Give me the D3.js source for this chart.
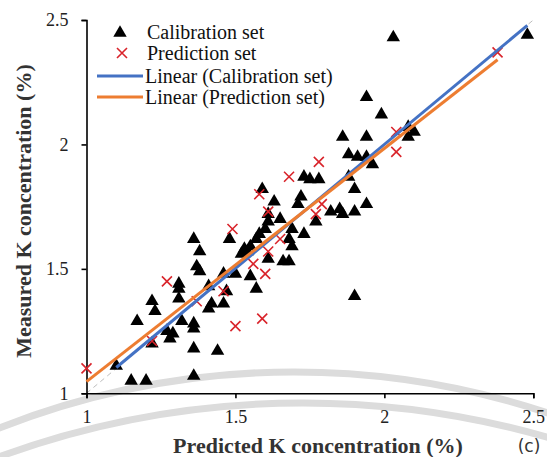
<!DOCTYPE html>
<html>
<head>
<meta charset="utf-8">
<script src="https://cdn.jsdelivr.net/npm/d3@7"></script>
<style>
  html, body { margin: 0; padding: 0; background: #fff; }
  svg { display: block; }
</style>
</head>
<body>
<svg id="chart" width="547" height="457"></svg>
<script>
// ---- data ----
const calibPredicted = [1.10,1.15,1.20,1.36,1.17,1.22,1.23,1.22,1.27,1.29,1.28,1.32,1.36,1.36,1.36,1.44,
  1.31,1.31,1.31,1.36,1.38,1.37,1.38,1.41,1.42,1.41,1.46,1.46,1.50,1.52,1.54,1.55,1.57,1.47,
  1.59,1.63,1.61,1.61,1.65,1.60,1.58,1.57,1.69,1.73,1.68,1.69,1.55,1.53,1.61,1.66,1.68,1.48,
  1.72,1.71,1.73,1.75,1.78,1.77,1.82,1.85,1.86,1.90,1.88,1.90,1.94,1.90,
  1.94,1.99,1.86,1.94,2.08,2.10,2.08,1.88,1.91,1.94,1.96,2.03,2.48];
const calibMeasured = [1.11,1.05,1.05,1.07,1.29,1.37,1.33,1.20,1.25,1.24,1.22,1.29,1.28,1.26,1.18,1.17,
  1.44,1.42,1.38,1.62,1.57,1.51,1.49,1.43,1.36,1.34,1.36,1.48,1.48,1.56,1.57,1.47,1.42,1.41,
  1.82,1.77,1.72,1.69,1.70,1.66,1.64,1.62,1.66,1.64,1.62,1.59,1.59,1.58,1.54,1.53,1.53,1.62,
  1.79,1.76,1.87,1.86,1.86,1.69,1.73,1.74,1.72,1.73,1.87,1.82,1.76,1.39,
  2.19,2.12,2.03,2.03,2.07,2.05,2.03,1.96,1.95,1.95,1.92,2.43,2.44];
const predPredicted = [1.00,1.22,1.27,1.37,1.46,1.50,1.49,1.56,1.59,1.60,1.61,1.58,1.61,1.65,1.68,1.78,1.79,1.77,2.04,2.04,2.38];
const predMeasured  = [1.10,1.21,1.45,1.37,1.41,1.27,1.66,1.52,1.30,1.48,1.57,1.80,1.73,1.62,1.87,1.93,1.76,1.72,2.05,1.97,2.37];
// linear trendlines: [slope, intercept]
const calibFit = [0.996, 0.008];
const predFit  = [0.937, 0.110];
const ticks = [1, 1.5, 2, 2.5];
const tickLabels = ["1", "1.5", "2", "2.5"];
const legendLabels = ["Calibration set", "Prediction set", "Linear (Calibration set)", "Linear (Prediction set)"];
const xTitle = "Predicted K concentration (%)";
const yTitle = "Measured K concentration (%)";
const panelTag = "(c)";

// ---- layout ----
const svg = d3.select("#chart");
const L = 86.5, R = 533.3, T = 20, B = 393.3;
const x = d3.scaleLinear().domain([1, 2.5]).range([L, R]);
const y = d3.scaleLinear().domain([1, 2.5]).range([B, T]);
const serif = "'Liberation Serif', 'Times New Roman', serif";
const BLUE = "#4472C4", ORANGE = "#ED7D31", RED = "#D9242B";

// watermark arcs (background decoration)
const wm = svg.append("g").attr("fill", "none").attr("stroke", "#dcdcdc").attr("stroke-width", 7);
wm.append("circle").attr("cx", 294).attr("cy", 1176).attr("r", 804);
wm.append("circle").attr("cx", 303).attr("cy", 1288).attr("r", 885);

// 1:1 dashed reference line
svg.append("line")
  .attr("x1", x(1)).attr("y1", y(1)).attr("x2", x(2.5)).attr("y2", y(2.5))
  .attr("stroke", "#bdbdbd").attr("stroke-width", 1).attr("stroke-dasharray", "5,4");

// axes
const xAxis = d3.axisBottom(x).tickValues(ticks).tickFormat((d, i) => tickLabels[i]).tickSizeOuter(0).tickSize(5).tickPadding(12);
const yAxis = d3.axisLeft(y).tickValues(ticks).tickFormat((d, i) => tickLabels[i]).tickSizeOuter(0).tickSize(5).tickPadding(13);
const gx = svg.append("g").attr("transform", `translate(0,${B})`).call(xAxis);
const gy = svg.append("g").attr("transform", `translate(${L},0)`).call(yAxis);
[gx, gy].forEach(g => {
  g.select(".domain").attr("stroke", "#000").attr("stroke-width", 1.6);
  g.selectAll(".tick line").attr("stroke", "#000").attr("stroke-width", 1.6);
  g.selectAll(".tick text").attr("font-family", serif).attr("font-size", 18).attr("fill", "#222");
});

// markers
const tri = d3.symbol().type(d3.symbolTriangle).size(78);
svg.append("g").selectAll("path").data(calibPredicted).join("path")
  .attr("d", tri)
  .attr("transform", (d, i) => `translate(${x(d)},${y(calibMeasured[i])})`)
  .attr("fill", "#000");

const cs = 5;
const cross = svg.append("g").attr("stroke", RED).attr("stroke-width", 1.6);
predPredicted.forEach((d, i) => {
  const cx = x(d), cy = y(predMeasured[i]);
  cross.append("path").attr("d", `M${cx-cs},${cy-cs}L${cx+cs},${cy+cs}M${cx-cs},${cy+cs}L${cx+cs},${cy-cs}`);
});

// trendlines
function fitLine(xs, fit, color) {
  const x0 = d3.min(xs), x1 = d3.max(xs);
  svg.append("line")
    .attr("x1", x(x0)).attr("y1", y(fit[0] * x0 + fit[1]))
    .attr("x2", x(x1)).attr("y2", y(fit[0] * x1 + fit[1]))
    .attr("stroke", color).attr("stroke-width", 3);
}
fitLine(calibPredicted, calibFit, BLUE);
fitLine(predPredicted, predFit, ORANGE);

// legend
const lg = svg.append("g").attr("font-family", serif).attr("font-size", 20).attr("fill", "#111");
lg.append("path").attr("d", tri).attr("transform", "translate(120,33)").attr("fill", "#000");
lg.append("path").attr("d", `M117,48L127,58M117,58L127,48`).attr("stroke", RED).attr("stroke-width", 1.6);
lg.append("line").attr("x1", 97).attr("x2", 143).attr("y1", 76).attr("y2", 76).attr("stroke", BLUE).attr("stroke-width", 3);
lg.append("line").attr("x1", 97).attr("x2", 143).attr("y1", 97).attr("y2", 97).attr("stroke", ORANGE).attr("stroke-width", 3);
const lgY = [32, 53, 76, 97];
const lgX = [147, 147, 145, 145];
legendLabels.forEach((t, i) => {
  lg.append("text").attr("x", lgX[i]).attr("y", lgY[i]).attr("dy", "0.33em").text(t);
});

// titles
svg.append("text").attr("x", 318).attr("y", 453).attr("text-anchor", "middle")
  .attr("font-family", serif).attr("font-weight", "bold").attr("font-size", 22).attr("fill", "#333")
  .text(xTitle);
svg.append("text").attr("transform", "translate(30.5,211) rotate(-90)").attr("text-anchor", "middle")
  .attr("font-family", serif).attr("font-weight", "bold").attr("font-size", 22).attr("fill", "#333")
  .text(yTitle);
svg.append("text").attr("x", 529).attr("y", 452).attr("text-anchor", "middle")
  .attr("font-family", "'DejaVu Sans', Verdana, sans-serif").attr("font-size", 17).attr("fill", "#333")
  .text(panelTag);
</script>
</body>
</html>
